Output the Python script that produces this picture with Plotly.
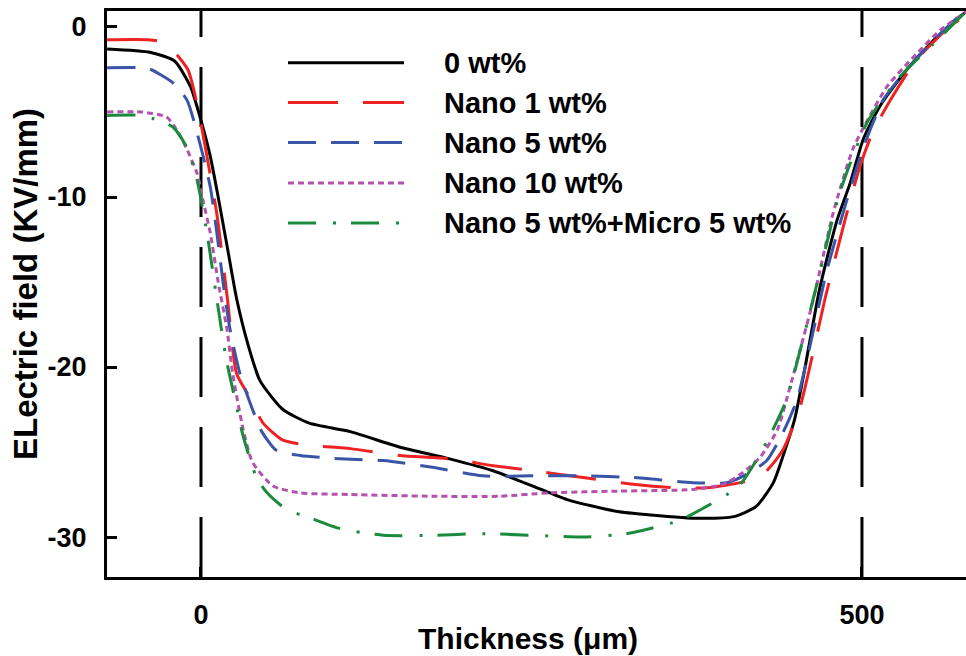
import plotly.graph_objects as go

# ---------------- data ----------------
series_names = ["0 wt%", "Nano 1 wt%", "Nano 5 wt%", "Nano 10 wt%", "Nano 5 wt%+Micro 5 wt%"]

x_0 = [-71, -38, -20, -8, 0, 7, 13, 20, 27, 36, 44.6, 62, 82, 113, 150, 188, 221, 251, 277, 315, 340,
       377, 403, 420, 433, 440, 449, 457, 468, 481, 491, 501, 514, 534, 554, 574, 579]
y_0 = [-1.3, -1.5, -2.0, -3.5, -5.5, -7.6, -10.0, -13.0, -16.0, -18.8, -20.8, -22.5, -23.3, -23.8, -24.7,
       -25.4, -26.1, -27.0, -27.8, -28.5, -28.7, -28.9, -28.8, -28.2, -26.8, -25.3, -23.1, -20.0, -15.4,
       -11.4, -9.2, -6.6, -4.6, -2.5, -0.8, 0.6, 0.9]

x_1 = [-71, -40, -27, -10, -1, 4.5, 12, 20, 27, 37, 47, 62, 82, 113, 150, 188, 221, 251, 289, 327, 357,
       383, 408, 424, 440, 453, 462, 472, 487, 498.5, 508, 523, 541.6, 569, 579]
y_1 = [-0.75, -0.75, -0.95, -2.5, -5.3, -7.6, -11.0, -16.0, -20.4, -21.8, -23.3, -24.3, -24.6, -24.8,
       -25.2, -25.4, -25.8, -26.1, -26.5, -26.9, -27.1, -27.1, -26.8, -26.4, -24.9, -22.4, -19.5, -16.0,
       -11.4, -8.2, -6.2, -4.1, -1.9, 0.2, 0.6]

x_5 = [-71, -45, -38, -21, -10.6, -1, 7, 12, 17, 22, 29.5, 39, 46, 57, 75, 105, 138, 175, 213, 251, 289,
       327, 372, 398, 413, 428, 440, 451, 473.5, 488.5, 501, 516, 534, 554, 576, 579]
y_5 = [-2.4, -2.4, -2.5, -3.3, -4.3, -6.8, -9.4, -12.1, -15.2, -17.8, -20.4, -22.5, -23.8, -24.9, -25.2,
       -25.4, -25.5, -25.9, -26.4, -26.4, -26.4, -26.5, -26.8, -26.8, -26.3, -25.5, -23.9, -21.9, -14.3,
       -10.2, -7.1, -4.3, -2.5, -0.8, 0.8, 0.9]

x_10 = [-71, -45, -26, -18, -10.6, -3, 1.5, 7, 13, 19.7, 24, 32, 39, 54.5, 75, 113, 175, 226, 264, 315,
        372, 395, 410, 423, 436, 443, 463, 478, 493, 504, 519, 538.6, 559, 579]
y_10 = [-5.0, -5.0, -5.3, -6.1, -7.2, -8.6, -10.2, -12.1, -15.0, -17.8, -20.4, -23.7, -25.6, -27.0,
        -27.4, -27.5, -27.6, -27.6, -27.4, -27.3, -27.2, -26.9, -26.2, -25.3, -23.7, -21.9, -16.1, -11.0,
        -7.2, -5.5, -3.5, -1.8, -0.2, 0.9]

x_nm = [-71, -45, -36, -21, -10.6, -3, 4.5, 12, 19, 26, 32, 42, 50, 65, 80, 105, 138, 175, 213, 251, 289,
        322, 340, 355, 368, 380, 398, 409, 420, 430, 443, 466, 483, 504, 529, 554, 576, 579]
y_nm = [-5.2, -5.2, -5.4, -5.9, -7.1, -9.0, -12.1, -16.0, -19.5, -22.0, -24.1, -26.5, -27.4, -28.4,
        -28.8, -29.5, -29.9, -29.9, -29.8, -29.9, -30.0, -29.8, -29.5, -29.2, -28.8, -28.3, -27.5, -26.8,
        -25.5, -24.1, -21.9, -15.1, -9.8, -5.6, -2.9, -1.0, 0.7, 0.9]

xs = [x_0, x_1, x_5, x_10, x_nm]
ys = [y_0, y_1, y_5, y_10, y_nm]

y_ticks = [0, -10, -20, -30]
y_tick_labels = ["0", "-10", "-20", "-30"]
x_ticks = [0, 500]
x_tick_labels = ["0", "500"]
boundaries = [0, 500]

# ---------------- styles ----------------
colors = ["#000000", "#EE2222", "#3A55A8", "#B552B0", "#1A8A3C"]
dashes = ["solid", "50px,25px", "28px,15px", "6px,4px", "28px,17px,3px,15px"]
widths = [3, 3, 3, 3, 3]

FONT = "Liberation Sans, Arial, Helvetica, sans-serif"
W, H = 966, 656
ML, MR, MT, MB = 107, 0, 11, 79
PW, PH = W - ML - MR, H - MT - MB


def px_x(p):
    return (p - ML) / PW


def px_y(p):
    return (H - MB - p) / PH


fig = go.Figure()
for name, x, y, c, d, w in zip(series_names, xs, ys, colors, dashes, widths):
    fig.add_trace(go.Scatter(
        x=x, y=y, mode="lines", name=name, showlegend=False,
        line=dict(color=c, dash=d, width=w, shape="spline", smoothing=0.6),
    ))

shapes = []
for b in boundaries:
    shapes.append(dict(type="line", xref="x", yref="paper", x0=b, x1=b, y0=0, y1=1,
                       line=dict(color="black", width=3, dash="60px,30px"), layer="below"))

# manual legend (long line samples as in the reference)
annotations = []
row_px = [62.7, 102.5, 142.5, 183, 223]
for name, c, d, w, ry in zip(series_names, colors, dashes, widths, row_px):
    shapes.append(dict(type="line", xref="paper", yref="paper",
                       x0=px_x(288), x1=px_x(404), y0=px_y(ry), y1=px_y(ry),
                       line=dict(color=c, width=w, dash=d)))
    annotations.append(dict(xref="paper", yref="paper", x=px_x(442), y=px_y(ry),
                            xanchor="left", yanchor="middle", text=name, showarrow=False,
                            font=dict(family=FONT, size=29, color="black", weight="bold")))

# axis titles
annotations.append(dict(xref="paper", yref="paper", x=px_x(528), y=px_y(639),
                        xanchor="center", yanchor="middle", text="Thickness (μm)", showarrow=False,
                        font=dict(family=FONT, size=30, color="black", weight="bold")))
annotations.append(dict(xref="paper", yref="paper", x=px_x(25), y=px_y(284),
                        xanchor="center", yanchor="middle", text="ELectric field (KV/mm)",
                        textangle=-90, showarrow=False,
                        font=dict(family=FONT, size=33, color="black", weight="bold")))

fig.update_layout(
    width=W, height=H,
    margin=dict(l=ML, r=MR, t=MT, b=MB, pad=0),
    paper_bgcolor="white", plot_bgcolor="white",
    shapes=shapes, annotations=annotations,
    showlegend=False,
    xaxis=dict(range=[-71.1, 578.7], tickvals=x_ticks, ticktext=x_tick_labels,
               showgrid=False, zeroline=False, showline=True, linecolor="black", linewidth=3,
               mirror=True, ticks="inside", ticklen=10, tickwidth=3, tickcolor="black",
               ticklabelstandoff=12,
               tickfont=dict(family=FONT, size=27, color="black", weight="bold")),
    yaxis=dict(range=[-32.35, 0.94], tickvals=y_ticks, ticktext=y_tick_labels,
               showgrid=False, zeroline=False, showline=True, linecolor="black", linewidth=3,
               ticks="inside", ticklen=10, tickwidth=3, tickcolor="black",
               ticklabelstandoff=12,
               tickfont=dict(family=FONT, size=27, color="black", weight="bold")),
)

fig.write_html("out.html", config={"displayModeBar": False},
               post_script="document.body.style.margin='0px';")
